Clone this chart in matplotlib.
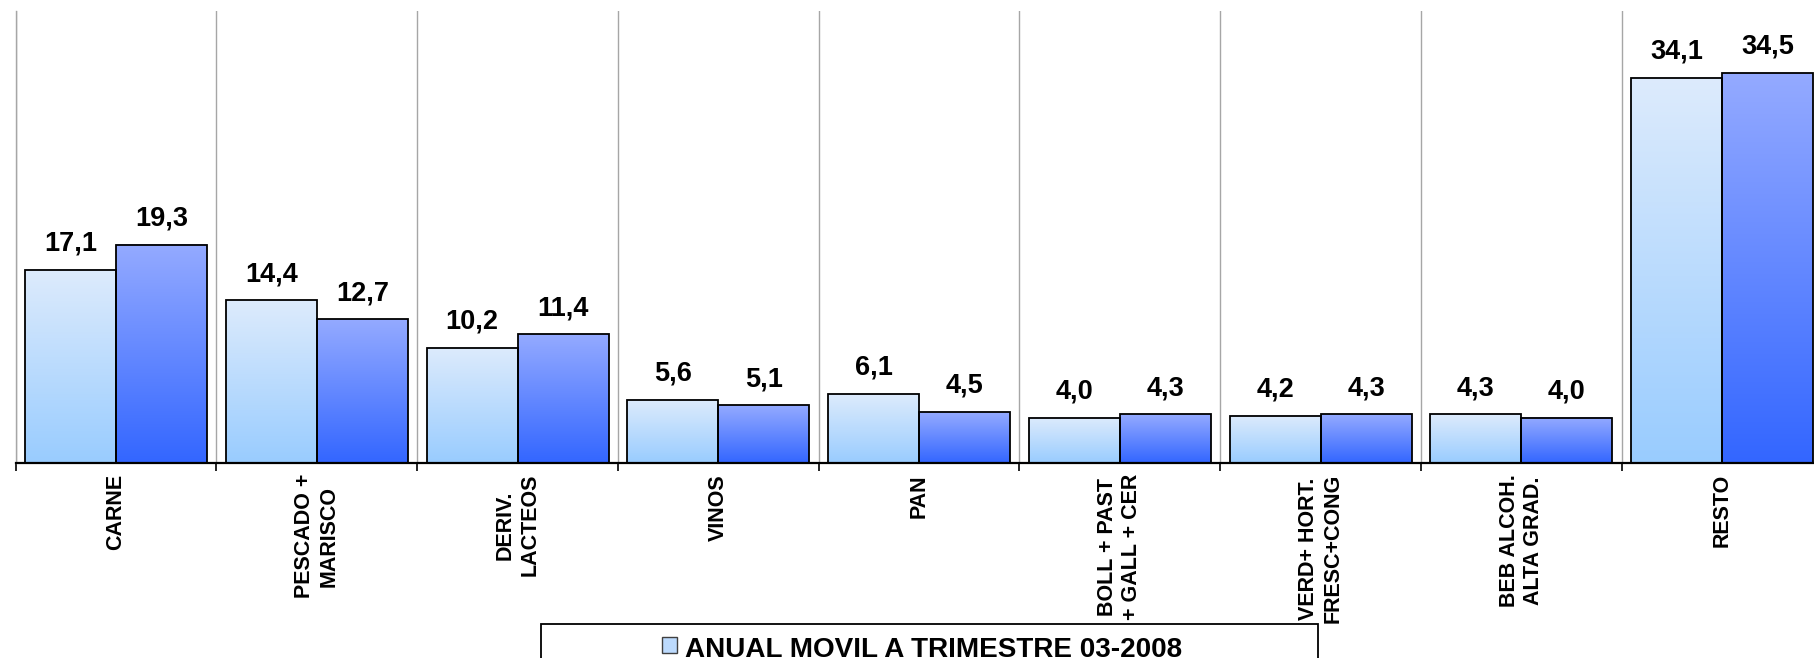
import numpy as np
import matplotlib
matplotlib.use("Agg")
import matplotlib.pyplot as plt
from matplotlib import font_manager
from matplotlib.colors import to_rgb
from matplotlib.patches import Rectangle

# Datos (cuota %, por familia de producto)
categories = [
    "CARNE",
    "PESCADO +\nMARISCO",
    "DERIV.\nLACTEOS",
    "VINOS",
    "PAN",
    "BOLL + PAST\n+ GALL + CER",
    "VERD+ HORT.\nFRESC+CONG",
    "BEB ALCOH.\nALTA GRAD.",
    "RESTO",
]
anual_2008 = [17.1, 14.4, 10.2, 5.6, 6.1, 4.0, 4.2, 4.3, 34.1]
anual_2009 = [19.3, 12.7, 11.4, 5.1, 4.5, 4.3, 4.3, 4.0, 34.5]
legend_label = "ANUAL MOVIL A TRIMESTRE 03-2008"

LIGHT = ("#DDEBFC", "#99CCFF")
DARK = ("#94AAFF", "#3366FF")

names = {f.name for f in font_manager.fontManager.ttflist}
base_font = "Liberation Sans" if "Liberation Sans" in names else "DejaVu Sans"
narrow_font = "Liberation Sans Narrow" if "Liberation Sans Narrow" in names else base_font
plt.rcParams["font.family"] = [base_font, "DejaVu Sans"]


def gradient(top, bottom, n=256):
    t = np.linspace(0, 1, n)[:, None]
    c = np.array(to_rgb(top)) * (1 - t) + np.array(to_rgb(bottom)) * t
    return c[:, None, :]


W, H = 1814, 658
fig = plt.figure(figsize=(W / 100, H / 100), dpi=100)
ax = fig.add_axes([15.7 / W, 195 / H, 9 * 200.75 / W, 452 / H])

x = np.arange(len(categories))
w = 0.453
bars1 = ax.bar(x - w / 2, anual_2008, w, facecolor="none", edgecolor="black", lw=1.3, zorder=3)
bars2 = ax.bar(x + w / 2, anual_2009, w, facecolor="none", edgecolor="black", lw=1.3, zorder=3)

for bars, vals, cols in [(bars1, anual_2008, LIGHT), (bars2, anual_2009, DARK)]:
    img = gradient(*cols)
    for p, v in zip(bars, vals):
        x0 = p.get_x()
        ax.imshow(img, extent=(x0, x0 + p.get_width(), 0, p.get_height()),
                  aspect="auto", zorder=2, interpolation="bilinear")
        ax.annotate(f"{v:.1f}".replace(".", ","), (x0 + p.get_width() / 2, p.get_height()),
                    xytext=(0, 13.8), textcoords="offset points", ha="center",
                    va="baseline", fontsize=19.5, fontweight="bold")

ax.set_xlim(-0.5, len(categories) - 0.5)
ax.set_ylim(0, 40)
ax.set_yticks([])

ax.set_xticks(np.arange(len(categories) + 1) - 0.5)
ax.set_xticklabels([])
ax.set_xticks(x, minor=True)
ax.set_xticklabels(categories, minor=True, rotation=90, fontsize=15.5, fontweight="bold")
for lbl in ax.get_xticklabels(minor=True):
    lbl.set_multialignment("center")
ax.tick_params(axis="x", which="minor", length=0, pad=8)
ax.tick_params(axis="x", which="major", length=6, width=1.2, direction="out")
ax.grid(axis="x", which="major", color="#A6A6A6", lw=1)
ax.set_axisbelow(True)

for s in ["top", "right"]:
    ax.spines[s].set_visible(False)
ax.spines["left"].set_color("#A6A6A6")
ax.spines["left"].set_linewidth(1)
ax.spines["bottom"].set_linewidth(1.6)

# leyenda (recortada por el borde inferior, como en el original)
fig.add_artist(Rectangle((541 / W, -0.1), 777 / W, 0.1 + 34 / H, transform=fig.transFigure,
                         fill=False, ec="black", lw=1.3))
fig.add_artist(Rectangle((662 / W, 5 / H), 15 / W, 16 / H, transform=fig.transFigure,
                         facecolor="#BCDAFD", ec="#404040", lw=1))
txt = fig.text(685 / W, 1 / H, legend_label, fontsize=24, fontweight="bold",
               family=[narrow_font, "DejaVu Sans"], va="baseline")
fig.canvas.draw()
width = txt.get_window_extent().width
txt.set_fontsize(24 * 497 / width)

fig.savefig("out.png", dpi=100)
